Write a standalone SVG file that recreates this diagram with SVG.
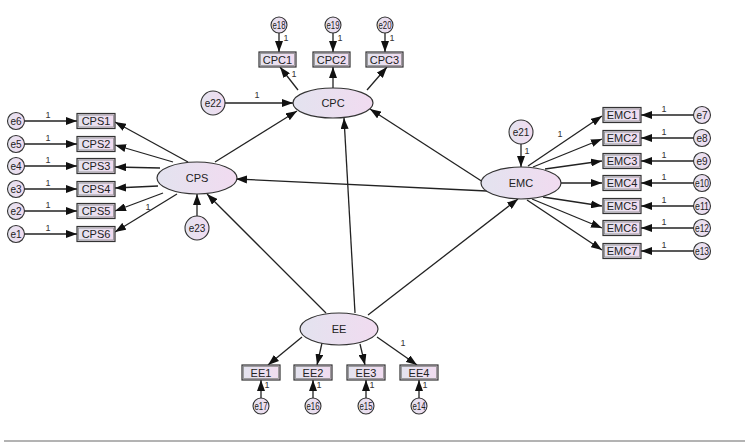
<svg xmlns="http://www.w3.org/2000/svg" width="745" height="446" viewBox="0 0 745 446">
  <defs>
    <linearGradient id="fillGrad" x1="0" y1="0" x2="1" y2="0">
      <stop offset="0" stop-color="#e3e3ef"/>
      <stop offset="1" stop-color="#f1dbf0"/>
    </linearGradient>
    <marker id="arrow" viewBox="0 0 11 8" markerWidth="11" markerHeight="8" refX="11" refY="4" orient="auto" markerUnits="userSpaceOnUse">
      <path d="M0,0 L11,4 L0,8 z" fill="#111"/>
    </marker>
    <style>
      .lat { fill: url(#fillGrad); stroke: #333; stroke-width: 1.2; }
      .box { fill: url(#fillGrad); stroke: #333; stroke-width: 1.2; }
      .boxin { fill: none; stroke: #8a8a8a; stroke-width: 0.8; }
      .err { fill: url(#fillGrad); stroke: #333; stroke-width: 1.1; }
      .edge { stroke: #222; stroke-width: 1.3; fill: none; marker-end: url(#arrow); }
      text { font-family: "Liberation Sans", Arial, sans-serif; fill: #222; text-anchor: middle; }
      .lbl { font-size: 11px; }
      .elbl { font-size: 10px; }
      .one { font-size: 9px; fill: #333; }
    </style>
  </defs>

  <rect x="0" y="0" width="745" height="446" fill="#ffffff"/>

  <!-- connectors -->
  <g id="connectors">
    <!-- structural paths -->
    <line class="edge" x1="326" y1="313" x2="207" y2="194"/>
    <line class="edge" x1="355" y1="313" x2="344" y2="118"/>
    <line class="edge" x1="368" y1="315" x2="518" y2="199"/>
    <line class="edge" x1="215" y1="162" x2="297" y2="111"/>
    <line class="edge" x1="483" y1="182" x2="370" y2="109"/>
    <line class="edge" x1="487" y1="191" x2="236" y2="179"/>
    <!-- disturbances -->
    <line class="edge" x1="225" y1="103" x2="293" y2="103"/>
    <line class="edge" x1="197" y1="216" x2="197" y2="194"/>
    <line class="edge" x1="521" y1="144" x2="521" y2="167"/>
    <!-- CPC loadings -->
    <line class="edge" x1="298" y1="90" x2="280" y2="67"/>
    <line class="edge" x1="333" y1="88" x2="333" y2="67"/>
    <line class="edge" x1="367" y1="90" x2="387" y2="67"/>
    <!-- CPS loadings -->
    <line class="edge" x1="188" y1="162" x2="115" y2="122"/>
    <line class="edge" x1="173" y1="162" x2="115" y2="145"/>
    <line class="edge" x1="160" y1="168" x2="115" y2="167"/>
    <line class="edge" x1="158" y1="186" x2="115" y2="188"/>
    <line class="edge" x1="163" y1="193" x2="115" y2="211"/>
    <line class="edge" x1="177" y1="194" x2="115" y2="232"/>
    <!-- EMC loadings -->
    <line class="edge" x1="528" y1="166" x2="602" y2="116"/>
    <line class="edge" x1="533" y1="167" x2="602" y2="139"/>
    <line class="edge" x1="545" y1="169" x2="602" y2="161"/>
    <line class="edge" x1="561" y1="183" x2="602" y2="183"/>
    <line class="edge" x1="543" y1="197" x2="602" y2="206"/>
    <line class="edge" x1="532" y1="199" x2="602" y2="228"/>
    <line class="edge" x1="527" y1="200" x2="602" y2="250"/>
    <!-- EE loadings -->
    <line class="edge" x1="302" y1="337" x2="268" y2="365"/>
    <line class="edge" x1="322" y1="343" x2="317" y2="365"/>
    <line class="edge" x1="360" y1="344" x2="365" y2="365"/>
    <line class="edge" x1="377" y1="337" x2="417" y2="365"/>
    <!-- measurement errors -->
    <line class="edge" x1="279" y1="33" x2="279" y2="52"/>
    <line class="edge" x1="333" y1="33" x2="333" y2="52"/>
    <line class="edge" x1="385" y1="33" x2="385" y2="52"/>
    <line class="edge" x1="24" y1="121" x2="77" y2="121"/>
    <line class="edge" x1="24" y1="144" x2="77" y2="144"/>
    <line class="edge" x1="24" y1="166" x2="77" y2="166"/>
    <line class="edge" x1="24" y1="189" x2="77" y2="189"/>
    <line class="edge" x1="24" y1="211" x2="77" y2="211"/>
    <line class="edge" x1="24" y1="234" x2="77" y2="234"/>
    <line class="edge" x1="694" y1="115" x2="641" y2="115"/>
    <line class="edge" x1="694" y1="138" x2="641" y2="138"/>
    <line class="edge" x1="694" y1="161" x2="641" y2="161"/>
    <line class="edge" x1="694" y1="183" x2="641" y2="183"/>
    <line class="edge" x1="694" y1="206" x2="641" y2="206"/>
    <line class="edge" x1="694" y1="228" x2="641" y2="228"/>
    <line class="edge" x1="694" y1="251" x2="641" y2="251"/>
    <line class="edge" x1="261" y1="398" x2="261" y2="380"/>
    <line class="edge" x1="313" y1="398" x2="313" y2="380"/>
    <line class="edge" x1="366" y1="398" x2="366" y2="380"/>
    <line class="edge" x1="419" y1="398" x2="419" y2="380"/>

    <!-- fixed weights -->
    <text class="one" x="257" y="98">1</text>
    <text class="one" x="294" y="77">1</text>
    <text class="one" x="286" y="41">1</text>
    <text class="one" x="340" y="41">1</text>
    <text class="one" x="392" y="41">1</text>
    <text class="one" x="48" y="118">1</text>
    <text class="one" x="48" y="141">1</text>
    <text class="one" x="48" y="163">1</text>
    <text class="one" x="48" y="186">1</text>
    <text class="one" x="48" y="208">1</text>
    <text class="one" x="48" y="231">1</text>
    <text class="one" x="148" y="210">1</text>
    <text class="one" x="527" y="154">1</text>
    <text class="one" x="560" y="137">1</text>
    <text class="one" x="664" y="112">1</text>
    <text class="one" x="664" y="135">1</text>
    <text class="one" x="664" y="158">1</text>
    <text class="one" x="664" y="180">1</text>
    <text class="one" x="664" y="203">1</text>
    <text class="one" x="664" y="225">1</text>
    <text class="one" x="664" y="248">1</text>
    <text class="one" x="403" y="346">1</text>
    <text class="one" x="267" y="388">1</text>
    <text class="one" x="319" y="388">1</text>
    <text class="one" x="372" y="388">1</text>
    <text class="one" x="425" y="388">1</text>
  </g>

  <!-- latent variables -->
  <g id="CPC"><ellipse class="lat" cx="333" cy="103" rx="40" ry="15"/><text class="lbl" x="333" y="107">CPC</text></g>
  <g id="CPS"><ellipse class="lat" cx="197" cy="178" rx="40" ry="16"/><text class="lbl" x="197" y="182">CPS</text></g>
  <g id="EMC"><ellipse class="lat" cx="521" cy="183" rx="40" ry="16"/><text class="lbl" x="521" y="187">EMC</text></g>
  <g id="EE"><ellipse class="lat" cx="339" cy="329" rx="39" ry="16"/><text class="lbl" x="339" y="333">EE</text></g>

  <!-- disturbance terms -->
  <g id="e22"><circle class="err" cx="213" cy="103" r="12"/><text class="elbl" x="213" y="107">e22</text></g>
  <g id="e23"><circle class="err" cx="197" cy="228" r="12"/><text class="elbl" x="197" y="232">e23</text></g>
  <g id="e21"><circle class="err" cx="521" cy="132" r="12"/><text class="elbl" x="521" y="136">e21</text></g>

  <!-- CPC indicators -->
  <g id="CPC1"><rect class="box" x="259" y="52" width="37" height="15"/><rect class="boxin" x="260.5" y="53.5" width="34" height="12"/><text class="lbl" x="277.5" y="63.5">CPC1</text></g>
  <g id="CPC2"><rect class="box" x="313" y="52" width="37" height="15"/><rect class="boxin" x="314.5" y="53.5" width="34" height="12"/><text class="lbl" x="331.5" y="63.5">CPC2</text></g>
  <g id="CPC3"><rect class="box" x="366" y="52" width="37" height="15"/><rect class="boxin" x="367.5" y="53.5" width="34" height="12"/><text class="lbl" x="384.5" y="63.5">CPC3</text></g>
  <g id="e18"><circle class="err" cx="279" cy="25" r="8"/><text class="elbl" x="279" y="28.5" textLength="13" lengthAdjust="spacingAndGlyphs">e18</text></g>
  <g id="e19"><circle class="err" cx="333" cy="25" r="8"/><text class="elbl" x="333" y="28.5" textLength="13" lengthAdjust="spacingAndGlyphs">e19</text></g>
  <g id="e20"><circle class="err" cx="385" cy="25" r="8"/><text class="elbl" x="385" y="28.5" textLength="13" lengthAdjust="spacingAndGlyphs">e20</text></g>

  <!-- CPS indicators -->
  <g id="CPS1"><rect class="box" x="77" y="113.5" width="38" height="15"/><rect class="boxin" x="78.5" y="115" width="35" height="12"/><text class="lbl" x="96" y="125">CPS1</text></g>
  <g id="CPS2"><rect class="box" x="77" y="136.5" width="38" height="15"/><rect class="boxin" x="78.5" y="138" width="35" height="12"/><text class="lbl" x="96" y="148">CPS2</text></g>
  <g id="CPS3"><rect class="box" x="77" y="158.5" width="38" height="15"/><rect class="boxin" x="78.5" y="160" width="35" height="12"/><text class="lbl" x="96" y="170">CPS3</text></g>
  <g id="CPS4"><rect class="box" x="77" y="181.5" width="38" height="15"/><rect class="boxin" x="78.5" y="183" width="35" height="12"/><text class="lbl" x="96" y="193">CPS4</text></g>
  <g id="CPS5"><rect class="box" x="77" y="203.5" width="38" height="15"/><rect class="boxin" x="78.5" y="205" width="35" height="12"/><text class="lbl" x="96" y="215">CPS5</text></g>
  <g id="CPS6"><rect class="box" x="77" y="226.5" width="38" height="15"/><rect class="boxin" x="78.5" y="228" width="35" height="12"/><text class="lbl" x="96" y="238">CPS6</text></g>
  <g id="e6"><circle class="err" cx="16" cy="121" r="8.5"/><text class="elbl" x="16" y="124.5">e6</text></g>
  <g id="e5"><circle class="err" cx="16" cy="144" r="8.5"/><text class="elbl" x="16" y="147.5">e5</text></g>
  <g id="e4"><circle class="err" cx="16" cy="166" r="8.5"/><text class="elbl" x="16" y="169.5">e4</text></g>
  <g id="e3"><circle class="err" cx="16" cy="189" r="8.5"/><text class="elbl" x="16" y="192.5">e3</text></g>
  <g id="e2"><circle class="err" cx="16" cy="211" r="8.5"/><text class="elbl" x="16" y="214.5">e2</text></g>
  <g id="e1"><circle class="err" cx="16" cy="234" r="8.5"/><text class="elbl" x="16" y="237.5">e1</text></g>

  <!-- EMC indicators -->
  <g id="EMC1"><rect class="box" x="603" y="107.5" width="38" height="15"/><rect class="boxin" x="604.5" y="109" width="35" height="12"/><text class="lbl" x="622" y="119">EMC1</text></g>
  <g id="EMC2"><rect class="box" x="603" y="130.5" width="38" height="15"/><rect class="boxin" x="604.5" y="132" width="35" height="12"/><text class="lbl" x="622" y="142">EMC2</text></g>
  <g id="EMC3"><rect class="box" x="603" y="153.5" width="38" height="15"/><rect class="boxin" x="604.5" y="155" width="35" height="12"/><text class="lbl" x="622" y="165">EMC3</text></g>
  <g id="EMC4"><rect class="box" x="603" y="175.5" width="38" height="15"/><rect class="boxin" x="604.5" y="177" width="35" height="12"/><text class="lbl" x="622" y="187">EMC4</text></g>
  <g id="EMC5"><rect class="box" x="603" y="198.5" width="38" height="15"/><rect class="boxin" x="604.5" y="200" width="35" height="12"/><text class="lbl" x="622" y="210">EMC5</text></g>
  <g id="EMC6"><rect class="box" x="603" y="220.5" width="38" height="15"/><rect class="boxin" x="604.5" y="222" width="35" height="12"/><text class="lbl" x="622" y="232">EMC6</text></g>
  <g id="EMC7"><rect class="box" x="603" y="243.5" width="38" height="15"/><rect class="boxin" x="604.5" y="245" width="35" height="12"/><text class="lbl" x="622" y="255">EMC7</text></g>
  <g id="e7"><circle class="err" cx="702" cy="115" r="8.5"/><text class="elbl" x="702" y="118.5">e7</text></g>
  <g id="e8"><circle class="err" cx="702" cy="138" r="8.5"/><text class="elbl" x="702" y="141.5">e8</text></g>
  <g id="e9"><circle class="err" cx="702" cy="161" r="8.5"/><text class="elbl" x="702" y="164.5">e9</text></g>
  <g id="e10"><circle class="err" cx="702" cy="183" r="8.5"/><text class="elbl" x="702" y="186.5" textLength="14" lengthAdjust="spacingAndGlyphs">e10</text></g>
  <g id="e11"><circle class="err" cx="702" cy="206" r="8.5"/><text class="elbl" x="702" y="209.5" textLength="14" lengthAdjust="spacingAndGlyphs">e11</text></g>
  <g id="e12"><circle class="err" cx="702" cy="228" r="8.5"/><text class="elbl" x="702" y="231.5" textLength="14" lengthAdjust="spacingAndGlyphs">e12</text></g>
  <g id="e13"><circle class="err" cx="702" cy="251" r="8.5"/><text class="elbl" x="702" y="254.5" textLength="14" lengthAdjust="spacingAndGlyphs">e13</text></g>

  <!-- EE indicators -->
  <g id="EE1"><rect class="box" x="242" y="365" width="38" height="15"/><rect class="boxin" x="243.5" y="366.5" width="35" height="12"/><text class="lbl" x="261" y="376.5">EE1</text></g>
  <g id="EE2"><rect class="box" x="294" y="365" width="38" height="15"/><rect class="boxin" x="295.5" y="366.5" width="35" height="12"/><text class="lbl" x="313" y="376.5">EE2</text></g>
  <g id="EE3"><rect class="box" x="347" y="365" width="38" height="15"/><rect class="boxin" x="348.5" y="366.5" width="35" height="12"/><text class="lbl" x="366" y="376.5">EE3</text></g>
  <g id="EE4"><rect class="box" x="400" y="365" width="38" height="15"/><rect class="boxin" x="401.5" y="366.5" width="35" height="12"/><text class="lbl" x="419" y="376.5">EE4</text></g>
  <g id="e17"><circle class="err" cx="261" cy="406" r="8"/><text class="elbl" x="261" y="409.5" textLength="13" lengthAdjust="spacingAndGlyphs">e17</text></g>
  <g id="e16"><circle class="err" cx="313" cy="406" r="8"/><text class="elbl" x="313" y="409.5" textLength="13" lengthAdjust="spacingAndGlyphs">e16</text></g>
  <g id="e15"><circle class="err" cx="366" cy="406" r="8"/><text class="elbl" x="366" y="409.5" textLength="13" lengthAdjust="spacingAndGlyphs">e15</text></g>
  <g id="e14"><circle class="err" cx="419" cy="406" r="8"/><text class="elbl" x="419" y="409.5" textLength="13" lengthAdjust="spacingAndGlyphs">e14</text></g>

  <!-- bottom rule -->
  <line x1="4" y1="441" x2="745" y2="441" stroke="#9a9a9a" stroke-width="1.5"/>
</svg>
